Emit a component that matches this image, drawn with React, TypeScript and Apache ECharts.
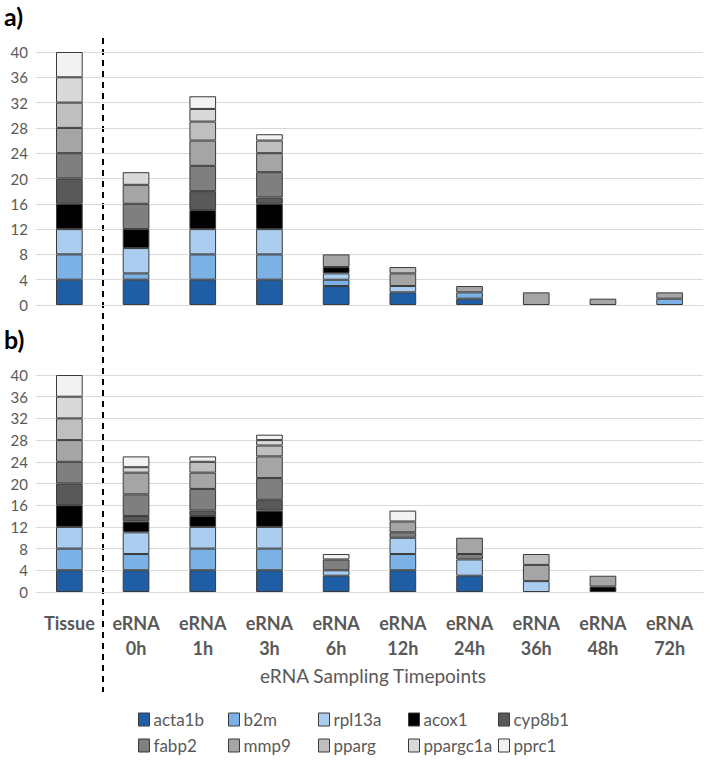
import React, { useEffect, useRef } from "react";
import * as echarts from "echarts";

const categories = ["Tissue", "eRNA\n0h", "eRNA\n1h", "eRNA\n3h", "eRNA\n6h", "eRNA\n12h", "eRNA\n24h", "eRNA\n36h", "eRNA\n48h", "eRNA\n72h"];
const genes = ["acta1b", "b2m", "rpl13a", "acox1", "cyp8b1", "fabp2", "mmp9", "pparg", "ppargc1a", "pprc1"];
const geneColors = ["#1f5ea5", "#7cb1e5", "#aacdf0", "#000000", "#595959", "#7f7f7f", "#a5a5a5", "#bfbfbf", "#d9d9d9", "#f2f2f2"];
const yTicks = [0, 4, 8, 12, 16, 20, 24, 28, 32, 36, 40];

// Panel a)
const acta1bA = [4, 4, 4, 4, 3, 2, 1, 0, 0, 0];
const b2mA = [4, 1, 4, 4, 1, 0, 1, 0, 0, 1];
const rpl13aA = [4, 4, 4, 4, 1, 1, 0, 0, 0, 0];
const acox1A = [4, 3, 3, 4, 1, 0, 0, 0, 0, 0];
const cyp8b1A = [4, 0, 3, 1, 0, 0, 0, 0, 0, 0];
const fabp2A = [4, 4, 4, 4, 0, 0, 0, 0, 0, 0];
const mmp9A = [4, 3, 4, 3, 2, 2, 1, 2, 1, 1];
const ppargA = [4, 0, 3, 2, 0, 1, 0, 0, 0, 0];
const ppargc1aA = [4, 2, 2, 0, 0, 0, 0, 0, 0, 0];
const pprc1A = [4, 0, 2, 1, 0, 0, 0, 0, 0, 0];

// Panel b)
const acta1bB = [4, 4, 4, 4, 3, 4, 3, 0, 0, 0];
const b2mB = [4, 3, 4, 4, 0, 3, 0, 0, 0, 0];
const rpl13aB = [4, 4, 4, 4, 1, 3, 3, 2, 0, 0];
const acox1B = [4, 2, 2, 3, 0, 0, 0, 0, 1, 0];
const cyp8b1B = [4, 1, 1, 2, 0, 0, 0, 0, 0, 0];
const fabp2B = [4, 4, 4, 4, 2, 1, 1, 0, 0, 0];
const mmp9B = [4, 4, 3, 4, 0, 2, 3, 3, 2, 0];
const ppargB = [4, 0, 2, 2, 0, 0, 0, 2, 0, 0];
const ppargc1aB = [4, 1, 0, 1, 0, 0, 0, 0, 0, 0];
const pprc1B = [4, 2, 1, 1, 1, 2, 0, 0, 0, 0];

const panelA = [acta1bA, b2mA, rpl13aA, acox1A, cyp8b1A, fabp2A, mmp9A, ppargA, ppargc1aA, pprc1A];
const panelB = [acta1bB, b2mB, rpl13aB, acox1B, cyp8b1B, fabp2B, mmp9B, ppargB, ppargc1aB, pprc1B];

const FONT = "Lato";
const TXT = "#595959";

export default function App() {
  const ref = useRef<HTMLDivElement>(null);
  useEffect(() => {
    if (!ref.current) return;
    const chart = echarts.init(ref.current, undefined, { renderer: "svg" });
    const toData = (arr: number[]) => arr.map((v) => (v === 0 ? "-" : v));
    const series: any[] = [];
    genes.forEach((g, i) => {
      [panelA, panelB].forEach((panel, p) => {
        series.push({
          type: "bar",
          name: g,
          stack: "s" + p,
          xAxisIndex: p,
          yAxisIndex: p,
          barWidth: "40%",
          data: toData(panel[i]),
          itemStyle: { color: geneColors[i], borderColor: "#3a3a3a", borderWidth: 1 },
        });
      });
    });
    const legendX = [133, 223, 313, 403, 493];
    const legends = genes.map((g, i) => ({
      data: [g],
      left: legendX[i % 5],
      top: i < 5 ? 706 : 732,
      icon: "rect",
      itemWidth: 11,
      itemHeight: 13,
      itemGap: 0,
      selectedMode: false,
      textStyle: { color: TXT, fontSize: 17, fontFamily: FONT, padding: [0, 0, 0, -1] },
      itemStyle: { borderColor: "#3a3a3a", borderWidth: 1 },
    }));
    const yAxisCommon = {
      type: "value",
      min: yTicks[0],
      max: yTicks[yTicks.length - 1],
      interval: yTicks[1] - yTicks[0],
      axisLine: { show: false },
      axisTick: { show: false },
      splitLine: { lineStyle: { color: "#d9d9d9", width: 1 } },
      axisLabel: { color: TXT, fontSize: 15, fontFamily: FONT, margin: 8 },
    };
    chart.setOption({
      animation: false,
      grid: [
        { left: 36, right: 6, top: 52, height: 253 },
        { left: 36, right: 6, top: 375, height: 217 },
      ],
      xAxis: [
        {
          type: "category",
          gridIndex: 0,
          data: categories,
          axisTick: { show: false },
          axisLine: { lineStyle: { color: "#d9d9d9" } },
          axisLabel: { show: false },
        },
        {
          type: "category",
          gridIndex: 1,
          data: categories,
          axisTick: { show: false },
          axisLine: { lineStyle: { color: "#d9d9d9" } },
          axisLabel: {
            color: TXT,
            fontSize: 18,
            fontWeight: "bold",
            fontFamily: FONT,
            lineHeight: 25,
            margin: 18,
            verticalAlign: "top",
            interval: 0,
          },
        },
      ],
      yAxis: [
        { ...yAxisCommon, gridIndex: 0 },
        { ...yAxisCommon, gridIndex: 1 },
      ],
      legend: legends,
      series,
      graphic: [
        {
          type: "text",
          left: 4,
          top: 3,
          style: { text: "a)", font: "bold 25px " + FONT, fill: "#000" },
        },
        {
          type: "text",
          left: 4,
          top: 326,
          style: { text: "b)", font: "bold 25px " + FONT, fill: "#000" },
        },
        {
          type: "line",
          shape: { x1: 103, y1: 38, x2: 103, y2: 692 },
          style: { stroke: "#000", lineWidth: 2, lineDash: [6, 5] },
        },
        {
          type: "text",
          x: 373,
          y: 675,
          style: {
            text: "eRNA Sampling Timepoints",
            font: "19px " + FONT,
            fill: TXT,
            textAlign: "center",
            textVerticalAlign: "middle",
          },
        },
      ],
    });
    return () => chart.dispose();
  }, []);
  return (
    <div
      ref={ref}
      style={{ position: "absolute", left: 0, top: 0, width: 709, height: 760, background: "#fff" }}
    />
  );
}
